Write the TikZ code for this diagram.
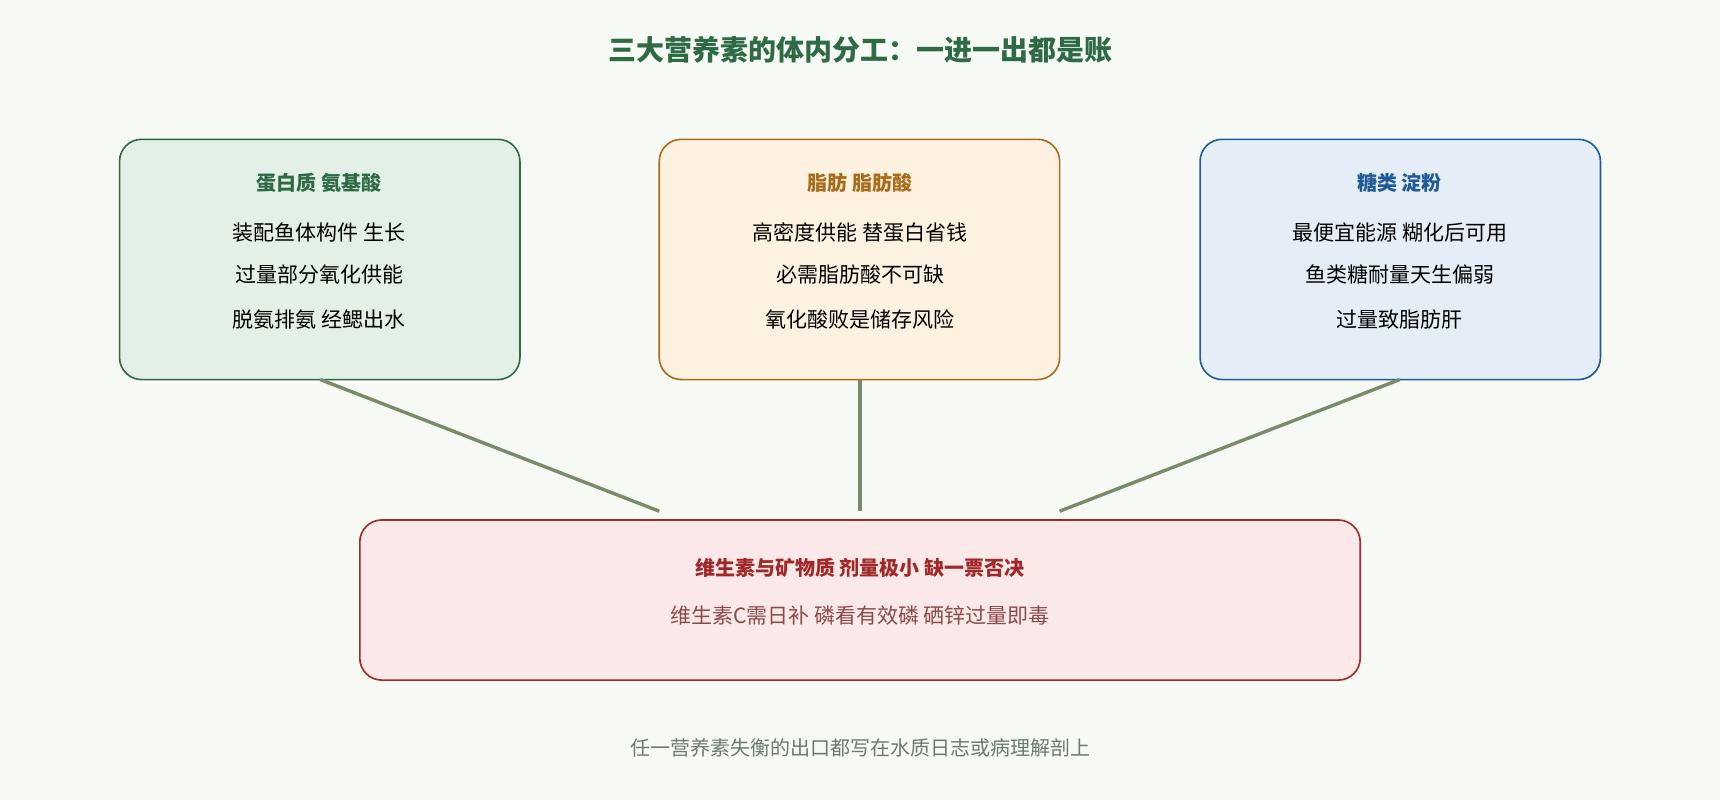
\documentclass[tikz,border=0pt]{standalone}
\usepackage{fontspec}
\setmainfont{Noto Sans CJK SC}
\definecolor{bgc}{HTML}{F7F9F4}
\definecolor{titc}{HTML}{2E6B45}
\definecolor{prof}{HTML}{E2F0E5}
\definecolor{fatf}{HTML}{FDF1E0}
\definecolor{fatd}{HTML}{A86B1A}
\definecolor{carf}{HTML}{E5EEF7}
\definecolor{card}{HTML}{1F5A99}
\definecolor{vitf}{HTML}{FBE9E9}
\definecolor{vitd}{HTML}{A02828}
\definecolor{vitt}{HTML}{8B4A4A}
\definecolor{linkc}{HTML}{7A8B6A}
\definecolor{footc}{HTML}{6B7B6B}
\tikzset{
  box/.style={draw, line width=0.8pt, rounded corners=11pt, anchor=north west},
  head/.style={font=\fontsize{10}{12}\selectfont\bfseries},
  body/.style={font=\fontsize{10.5}{12}\selectfont},
  link/.style={linkc, line width=1.7pt}
}
\begin{document}
\begin{tikzpicture}[x=0.5485pt, y=-0.5485pt]
  \fill[bgc] (0,0) rectangle (1568,729);
  \useasboundingbox (0,0) rectangle (1568,729);
  \node[titc, font=\fontsize{14}{16}\selectfont\bfseries] (title) at (784,45) {三大营养素的体内分工：一进一出都是账};

  % three boxes
  \draw[box, titc, fill=prof] (109,127) rectangle (474,346);
  \draw[box, fatd, fill=fatf] (601,127) rectangle (966,346);
  \draw[box, card, fill=carf] (1094,127) rectangle (1459,346);
  \node[head, titc] (proh) at (291,167) {蛋白质 氨基酸};
  \node[body] (pro1) at (291,212) {装配鱼体构件 生长};
  \node[body] (pro2) at (291,250) {过量部分氧化供能};
  \node[body] (pro3) at (291,291) {脱氨排氨 经鳃出水};
  \node[head, fatd] (fath) at (784,167) {脂肪 脂肪酸};
  \node[body] (fat1) at (784,212) {高密度供能 替蛋白省钱};
  \node[body] (fat2) at (784,250) {必需脂肪酸不可缺};
  \node[body] (fat3) at (784,291) {氧化酸败是储存风险};
  \node[head, card] (carh) at (1276,167) {糖类 淀粉};
  \node[body] (car1) at (1276,212) {最便宜能源 糊化后可用};
  \node[body] (car2) at (1276,250) {鱼类糖耐量天生偏弱};
  \node[body] (car3) at (1276,291) {过量致脂肪肝};

  % bottom box
  \draw[box, vitd, fill=vitf] (328,474) rectangle (1240,620);
  \node[head, vitd] (vith) at (784,518) {维生素与矿物质 剂量极小 缺一票否决};
  \node[body, vitt] (vit1) at (784,561) {维生素C需日补 磷看有效磷 硒锌过量即毒};

  \coordinate (pro) at (292,346);
  \coordinate (fat) at (784,346);
  \coordinate (car) at (1276,346);
  \coordinate (vl) at (601,466);
  \coordinate (vm) at (784,466);
  \coordinate (vr) at (966,466);
  \draw[link] (pro) -- (vl);
  \draw[link] (fat) -- (vm);
  \draw[link] (car) -- (vr);

  \node[footc, font=\fontsize{10}{12}\selectfont] (foot) at (784,682) {任一营养素失衡的出口都写在水质日志或病理解剖上};
\end{tikzpicture}
\end{document}
